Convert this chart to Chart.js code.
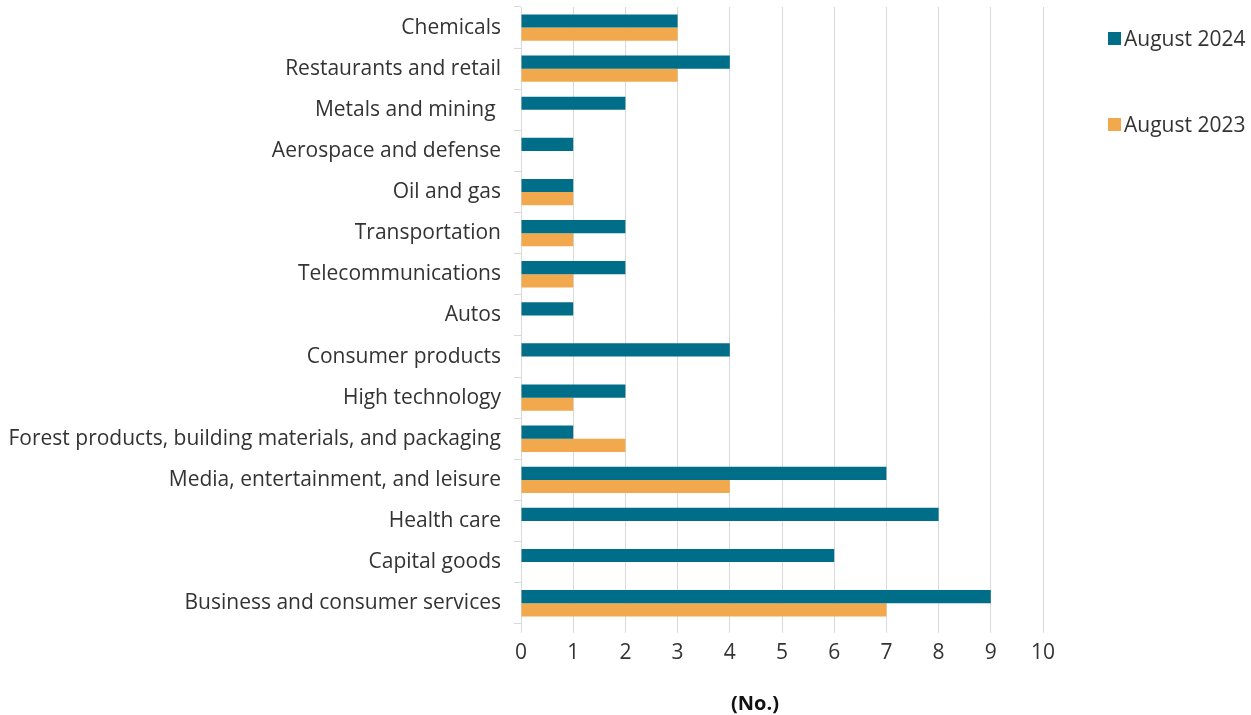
<!DOCTYPE html>
<html>
<head>
<meta charset="utf-8">
<script src="https://cdn.jsdelivr.net/npm/chart.js@4.4.1/dist/chart.umd.min.js"></script>
<style>
  html, body { margin: 0; padding: 0; background: #fff; }
  #wrap { position: relative; width: 1251px; height: 715px; font-family: "Open Sans", sans-serif; }
  #legend { position: absolute; left: 1108px; top: 0; font-size: 21px; color: #333; }
  .item { position: absolute; left: 0; white-space: nowrap; display: flex; align-items: center; }
  .swatch { width: 13px; height: 13px; margin-right: 3px; }
  #xtitle { position: absolute; left: 655px; width: 200px; top: 690px; text-align: center; font-size: 20px; font-weight: 700; color: #111; line-height: 26px; }
</style>
</head>
<body>
<div id="wrap">
  <canvas id="chart" width="1251" height="715"></canvas>
  <div id="legend"></div>
  <div id="xtitle">(No.)</div>
</div>
<script>
// sectors, top to bottom
const sectors = [
    "Chemicals",
    "Restaurants and retail",
    "Metals and mining ",
    "Aerospace and defense",
    "Oil and gas",
    "Transportation",
    "Telecommunications",
    "Autos",
    "Consumer products",
    "High technology",
    "Forest products, building materials, and packaging",
    "Media, entertainment, and leisure",
    "Health care",
    "Capital goods",
    "Business and consumer services"
];

// counts per sector
const aug2024 = [3, 4, 2, 1, 1, 2, 2, 1, 4, 2, 1, 7, 8, 6, 9];
const aug2023 = [3, 3, 0, 0, 1, 1, 1, 0, 0, 1, 2, 4, 0, 0, 7];

const xTicks = [0, 1, 2, 3, 4, 5, 6, 7, 8, 9, 10];

const seriesNames = ["August 2024", "August 2023"];
const seriesColors = ["#006e89", "#f2a84c"];

const gridColor = "#d9d9d9";
const textColor = "#333333";
const fontFamily = "'Open Sans', sans-serif";
const labelFont = { family: fontFamily, size: 21 };

const ctx = document.getElementById("chart").getContext("2d");
const chart = new Chart(ctx, {
    type: "bar",
    data: {
        labels: sectors,
        datasets: [
            { label: seriesNames[0], data: aug2024, backgroundColor: seriesColors[0] },
            { label: seriesNames[1], data: aug2023, backgroundColor: seriesColors[1] }
        ]
    },
    options: {
        indexAxis: "y",
        responsive: false,
        animation: false,
        categoryPercentage: 0.64,
        barPercentage: 1.0,
        layout: { padding: { top: 7, right: 208, bottom: 41, left: 0 } },
        plugins: {
            legend: { display: false },
            tooltip: { enabled: false }
        },
        scales: {
            x: {
                min: 0,
                max: 10,
                afterBuildTicks: (scale) => { scale.ticks = xTicks.map(v => ({ value: v })); },
                grid: { color: gridColor, lineWidth: 1, tickLength: 9, drawTicks: true },
                border: { display: false },
                ticks: { color: textColor, font: labelFont, padding: 8 }
            },
            y: {
                afterFit: (scale) => {
                    scale.width = 521;
                    scale.paddingTop = 0;
                    scale.paddingBottom = 0;
                },
                grid: { offset: true, drawOnChartArea: false, drawTicks: true, tickLength: 7, color: gridColor },
                border: { display: false },
                ticks: { color: textColor, font: labelFont, padding: 13, autoSkip: false }
            }
        }
    }
});

// legend entries drawn beside the plot
const legend = document.getElementById("legend");
const legendTops = [39, 125];
seriesNames.forEach((name, i) => {
    const item = document.createElement("div");
    item.className = "item";
    item.style.top = (legendTops[i] - 15) + "px";
    item.innerHTML = '<span class="swatch" style="background:' + seriesColors[i] + '"></span>' + name;
    legend.appendChild(item);
});
</script>
</body>
</html>
